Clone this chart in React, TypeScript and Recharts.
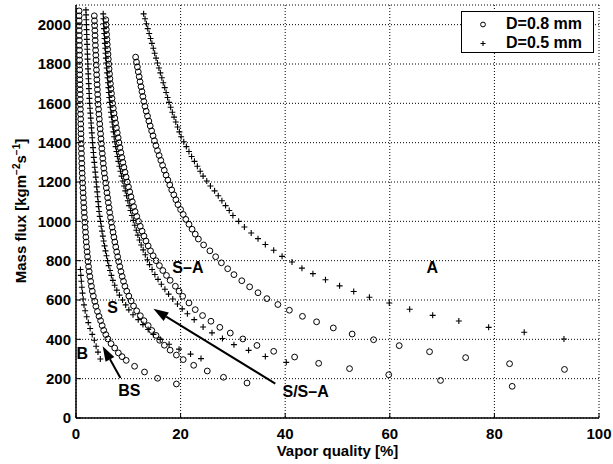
import React from 'react';
import { ScatterChart, Scatter, XAxis, YAxis, CartesianGrid, ReferenceLine } from 'recharts';

const FONT = '"Liberation Sans", Arial, Helvetica, sans-serif';

// [vapor quality %, mass flux kg/m2s]
// B/BS transition, D=0.8 mm
const bbs08: [number, number][] = [[0.60,2070],[0.61,2045],[0.62,2020],[0.63,1995],[0.63,1970],[0.64,1945],[0.65,1920],[0.66,1895],[0.67,1870],[0.68,1845],[0.69,1820],[0.70,1795],[0.72,1770],[0.73,1745],[0.75,1720],[0.76,1695],[0.78,1670],[0.80,1645],[0.82,1620],[0.83,1595],[0.85,1570],[0.87,1545],[0.89,1520],[0.91,1495],[0.93,1470],[0.95,1445],[0.97,1420],[1.00,1395],[1.02,1370],[1.05,1345],[1.08,1320],[1.11,1295],[1.14,1270],[1.18,1245],[1.22,1220],[1.26,1195],[1.31,1170],[1.36,1145],[1.41,1120],[1.46,1095],[1.52,1070],[1.57,1045],[1.63,1020],[1.69,995],[1.75,970],[1.82,945],[1.89,920],[1.96,895],[2.04,870],[2.12,845],[2.21,820],[2.30,795],[2.40,770],[2.52,745],[2.65,720],[2.80,695],[2.95,670],[3.12,645],[3.32,620],[3.6,593],[3.8,568],[4.1,542],[4.4,517],[4.7,495],[5.0,470],[5.3,446],[5.7,424],[6.1,402],[6.7,378],[7.4,356],[8.1,331],[8.8,312],[9.6,293],[11.2,263],[13.1,234],[15.6,202],[19.2,173]];
// B/BS transition, D=0.5 mm
const bbs05: [number, number][] = [[0.85,755],[0.93,725],[1.02,695],[1.12,665],[1.24,635],[1.37,605],[1.53,575],[1.75,545],[2.05,515],[2.35,485],[2.7,455],[3.1,425],[3.5,395],[3.85,365],[4.2,335],[4.65,300]];
// BS/S transition, D=0.5 mm
const bss05: [number, number][] = [[1.90,2075],[1.93,2050],[1.96,2025],[1.99,2000],[2.02,1975],[2.05,1950],[2.08,1925],[2.12,1900],[2.15,1875],[2.19,1850],[2.22,1825],[2.26,1800],[2.30,1775],[2.34,1750],[2.38,1725],[2.43,1700],[2.47,1675],[2.52,1650],[2.56,1625],[2.61,1600],[2.68,1575],[2.75,1550],[2.82,1525],[2.89,1500],[2.96,1475],[3.03,1450],[3.10,1425],[3.17,1400],[3.25,1375],[3.33,1350],[3.41,1325],[3.50,1300],[3.59,1275],[3.68,1250],[3.78,1225],[3.87,1200],[3.96,1175],[4.05,1150],[4.14,1125],[4.23,1100],[4.32,1075],[4.42,1050],[4.55,1025],[4.69,1000],[4.83,975],[4.98,950],[5.13,925],[5.29,900],[5.46,875],[5.64,850],[5.83,825],[6.04,800],[6.26,775],[6.50,750],[6.76,725],[7.05,700],[7.40,675],[7.80,650],[8.30,625],[8.9,600],[9.5,575],[10.1,550],[10.9,525],[11.9,500],[12.8,475],[13.8,450],[14.8,425],[16.1,400],[17.8,375],[19.7,350],[21.9,325],[23.9,302]];
// BS/S transition, D=0.8 mm
const bss08: [number, number][] = [[3.50,2045],[3.53,2020],[3.57,1995],[3.60,1970],[3.64,1945],[3.67,1920],[3.71,1895],[3.75,1870],[3.79,1845],[3.83,1820],[3.87,1795],[3.91,1770],[3.95,1745],[3.99,1720],[4.04,1695],[4.09,1670],[4.14,1645],[4.19,1620],[4.24,1595],[4.31,1570],[4.38,1545],[4.46,1520],[4.54,1495],[4.62,1470],[4.70,1445],[4.78,1420],[4.86,1395],[4.94,1370],[5.03,1345],[5.12,1320],[5.21,1295],[5.31,1270],[5.42,1245],[5.55,1220],[5.67,1195],[5.80,1170],[5.92,1145],[6.05,1120],[6.18,1095],[6.32,1070],[6.44,1045],[6.60,1020],[6.76,995],[6.92,970],[7.08,945],[7.25,920],[7.42,895],[7.60,870],[7.78,845],[7.97,820],[8.17,795],[8.38,770],[8.60,745],[8.83,720],[9.08,695],[9.35,670],[9.70,645],[10.1,620],[10.55,595],[11.0,570],[11.6,545],[12.3,520],[13.0,495],[13.8,470],[14.5,445],[15.3,420],[16.0,395],[16.9,370],[18.0,345],[19.2,320],[20.5,297],[22.5,268],[25.1,239],[28.2,207],[32.7,178]];
// S/S-A transition, D=0.5 mm
const ssa05: [number, number][] = [[5.20,2055],[5.25,2030],[5.30,2005],[5.35,1980],[5.41,1955],[5.47,1930],[5.53,1905],[5.60,1880],[5.66,1855],[5.73,1830],[5.80,1805],[5.88,1780],[5.96,1755],[6.04,1730],[6.12,1705],[6.20,1680],[6.28,1655],[6.36,1630],[6.45,1605],[6.56,1580],[6.67,1555],[6.79,1530],[6.91,1505],[7.03,1480],[7.16,1455],[7.29,1430],[7.43,1405],[7.58,1380],[7.74,1355],[7.92,1330],[8.10,1305],[8.30,1280],[8.50,1255],[8.72,1230],[8.95,1205],[9.18,1180],[9.42,1155],[9.66,1130],[9.91,1105],[10.16,1080],[10.42,1055],[10.69,1030],[10.96,1005],[11.24,980],[11.53,955],[11.83,930],[12.14,905],[12.46,880],[12.85,855],[13.25,830],[13.65,805],[14.06,780],[14.55,755],[15.08,730],[15.68,705],[16.32,680],[17.0,655],[17.7,630],[18.5,605],[19.4,580],[20.3,555],[21.3,530],[22.6,500],[24.3,463],[26.0,433],[28.0,404],[30.2,373],[33.0,344],[36.2,313],[40.2,283]];
// S/S-A transition, D=0.8 mm
const ssa08: [number, number][] = [[5.70,2025],[5.75,2000],[5.80,1975],[5.86,1950],[5.92,1925],[5.98,1900],[6.05,1875],[6.12,1850],[6.18,1825],[6.25,1800],[6.33,1775],[6.41,1750],[6.49,1725],[6.58,1700],[6.68,1675],[6.79,1650],[6.89,1625],[7.00,1600],[7.13,1575],[7.27,1550],[7.42,1525],[7.57,1500],[7.73,1475],[7.89,1450],[8.06,1425],[8.23,1400],[8.40,1375],[8.58,1350],[8.77,1325],[8.96,1300],[9.16,1275],[9.37,1250],[9.58,1225],[9.80,1200],[10.03,1175],[10.27,1150],[10.51,1125],[10.76,1100],[11.02,1075],[11.30,1050],[11.62,1025],[11.95,1000],[12.29,975],[12.64,950],[13.0,925],[13.38,900],[13.8,875],[14.25,850],[14.75,825],[15.3,800],[15.95,775],[16.6,750],[17.3,725],[18.0,700],[19.0,670],[19.7,645],[20.4,619],[21.6,585],[22.8,551],[24.2,521],[25.8,492],[27.5,461],[29.5,432],[31.9,402],[34.6,369],[37.8,339],[41.8,310],[46.4,278],[52.3,251],[59.8,220],[69.7,191],[83.4,161]];
// S-A/A transition, D=0.8 mm
const saa08: [number, number][] = [[11.40,1835],[11.57,1810],[11.74,1785],[11.91,1760],[12.08,1735],[12.25,1710],[12.43,1685],[12.61,1660],[12.79,1635],[12.97,1610],[13.18,1585],[13.42,1560],[13.67,1535],[13.93,1510],[14.19,1485],[14.46,1460],[14.73,1435],[15.0,1410],[15.28,1385],[15.58,1360],[15.90,1335],[16.22,1310],[16.55,1285],[16.88,1260],[17.22,1235],[17.57,1210],[17.93,1185],[18.3,1160],[18.7,1135],[19.1,1110],[19.5,1085],[20.0,1060],[20.5,1035],[21.0,1010],[21.6,985],[22.2,960],[22.8,935],[23.4,910],[24.4,880],[25.6,850],[26.7,820],[27.8,789],[29.0,759],[30.2,729],[31.7,698],[33.2,667],[34.8,637],[36.5,607],[38.6,577],[40.8,548],[43.3,517],[46.0,489],[49.2,458],[52.8,427],[56.9,398],[61.8,368],[67.6,337],[74.5,307],[82.9,276],[93.4,247]];
// S-A/A transition, D=0.5 mm
const saa05: [number, number][] = [[12.93,2055],[13.20,2030],[13.46,2005],[13.72,1980],[13.99,1955],[14.25,1930],[14.51,1905],[14.78,1880],[15.04,1855],[15.31,1830],[15.58,1805],[15.86,1780],[16.13,1755],[16.41,1730],[16.68,1705],[16.96,1680],[17.23,1655],[17.51,1630],[17.78,1605],[18.1,1580],[18.42,1555],[18.75,1530],[19.08,1505],[19.42,1480],[19.76,1455],[20.1,1430],[20.6,1405],[21.1,1380],[21.6,1355],[22.1,1330],[22.65,1305],[23.2,1280],[23.75,1255],[24.3,1230],[25.0,1205],[25.7,1180],[26.5,1155],[27.2,1130],[27.9,1105],[28.6,1080],[29.3,1055],[30.0,1030],[31.1,1000],[32.2,971],[33.5,941],[34.8,912],[36.2,882],[37.8,853],[39.4,822],[41.3,793],[43.2,762],[45.3,734],[47.7,703],[50.4,672],[53.1,643],[56.1,614],[59.9,585],[63.8,553],[68.2,522],[73.2,493],[78.9,461],[85.7,436],[93.3,402]];

const xTicks = [0, 20, 40, 60, 80, 100];
const yTicks = [0, 200, 400, 600, 800, 1000, 1200, 1400, 1600, 1800, 2000];

const regionLabels = [
  { x: 1.2, y: 327, text: 'B' },
  { x: 10.2, y: 139, text: 'BS' },
  { x: 7.0, y: 564, text: 'S' },
  { x: 21.4, y: 767, text: 'S\u2013A' },
  { x: 68.1, y: 767, text: 'A' },
  { x: 43.9, y: 136, text: 'S/S\u2013A' },
];

// arrows: tail -> tip
const arrows = [
  [{ x: 8.5, y: 203 }, { x: 5.1, y: 365 }],
  [{ x: 38.1, y: 175 }, { x: 14.8, y: 555 }],
];

const legendItems = [
  { label: 'D=0.8 mm', kind: 'circle' },
  { label: 'D=0.5 mm', kind: 'plus' },
];

const toPts = (arr: [number, number][]) => arr.map(([x, y]) => ({ x, y }));

const CircleMark = (p: any) => (
  <circle cx={p.cx} cy={p.cy} r={2.9} fill="none" stroke="#000" strokeWidth={1} />
);
const PlusMark = (p: any) => (
  <path d={`M${p.cx - 3},${p.cy}H${p.cx + 3}M${p.cx},${p.cy - 3}V${p.cy + 3}`} stroke="#000" strokeWidth={1.1} fill="none" />
);
const TextMark = (p: any) => (
  <text x={p.cx} y={p.cy} dy="0.36em" textAnchor="middle" fontFamily={FONT} fontWeight="bold" fontSize={16} fill="#000">
    {p.payload?.text ?? p.text}
  </text>
);

function ArrowShape(p: any) {
  const { x1, y1, x2, y2 } = p;
  const a = Math.atan2(y2 - y1, x2 - x1);
  const len = 15;
  const half = 5;
  const bx = x2 - len * Math.cos(a);
  const by = y2 - len * Math.sin(a);
  const nx = -Math.sin(a) * half;
  const ny = Math.cos(a) * half;
  return (
    <g>
      <line x1={x1} y1={y1} x2={bx} y2={by} stroke="#000" strokeWidth={2} />
      <polygon points={`${x2},${y2} ${bx + nx},${by + ny} ${bx - nx},${by - ny}`} fill="#000" />
    </g>
  );
}

const XTitle = () => (
  <text x={337.5} y={455.5} textAnchor="middle" fontFamily={FONT} fontWeight="bold" fontSize={15} fill="#000">
    Vapor quality [%]
  </text>
);

const YTitle = () => (
  <text x={26} y={211} transform="rotate(-90, 26, 211)" textAnchor="middle" fontFamily={FONT} fontWeight="bold" fontSize={15} fill="#000">
    Mass flux [kgm<tspan dy={-6} fontSize={10}>{'\u22122'}</tspan>
    <tspan dy={6}>s</tspan>
    <tspan dy={-6} fontSize={10}>{'\u22121'}</tspan>
    <tspan dy={6}>]</tspan>
  </text>
);

const XTick = (p: any) => (
  <text x={p.x} y={p.y} dy="0.72em" textAnchor="middle" fontFamily={FONT} fontWeight="bold" fontSize={15} fill="#000">
    {p.payload.value}
  </text>
);
const YTick = (p: any) => (
  <text x={p.x} y={p.y} dy="0.36em" textAnchor="end" fontFamily={FONT} fontWeight="bold" fontSize={15} fill="#000">
    {p.payload.value}
  </text>
);
const NoTick = () => <g />;

export default function App() {
  return (
    <div style={{ position: 'absolute', left: 0, top: 0, width: 613, height: 464, background: '#fff' }}>
      <ScatterChart width={613} height={464} margin={{ top: 5, right: 14, bottom: 0, left: 0 }}>
        <CartesianGrid stroke="#000" strokeDasharray="1 2" strokeWidth={1} />
        <XAxis type="number" dataKey="x" domain={[0, 100]} ticks={xTicks} height={46} stroke="#000"
          axisLine={{ strokeWidth: 1.5 }} tickSize={-5} tickMargin={15} tick={XTick} label={<XTitle />} />
        <YAxis type="number" dataKey="y" domain={[0, 2100]} ticks={yTicks} width={76} stroke="#000"
          axisLine={{ strokeWidth: 1.5 }} tickSize={-5} tickMargin={10} tick={YTick} label={<YTitle />} />
        <XAxis xAxisId="top" orientation="top" type="number" dataKey="x" domain={[0, 100]} ticks={xTicks} height={0}
          stroke="#000" axisLine={{ strokeWidth: 1.5 }} tickSize={-5} tick={NoTick} />
        <YAxis yAxisId="right" orientation="right" type="number" dataKey="y" domain={[0, 2100]} ticks={yTicks} width={0}
          stroke="#000" axisLine={{ strokeWidth: 1.5 }} tickSize={-5} tick={NoTick} />
        <Scatter data={toPts(bbs08)} shape={CircleMark} isAnimationActive={false} />
        <Scatter data={toPts(bss08)} shape={CircleMark} isAnimationActive={false} />
        <Scatter data={toPts(ssa08)} shape={CircleMark} isAnimationActive={false} />
        <Scatter data={toPts(saa08)} shape={CircleMark} isAnimationActive={false} />
        <Scatter data={toPts(bbs05)} shape={PlusMark} isAnimationActive={false} />
        <Scatter data={toPts(bss05)} shape={PlusMark} isAnimationActive={false} />
        <Scatter data={toPts(ssa05)} shape={PlusMark} isAnimationActive={false} />
        <Scatter data={toPts(saa05)} shape={PlusMark} isAnimationActive={false} />
        <Scatter data={regionLabels} shape={TextMark} isAnimationActive={false} />
        {arrows.map((seg, i) => (
          <ReferenceLine key={i} segment={seg} shape={ArrowShape} ifOverflow="visible" />
        ))}
      </ScatterChart>
      <div style={{ position: 'absolute', left: 461, top: 11, width: 133, height: 42, border: '1px solid #000', background: '#fff', boxSizing: 'border-box', fontFamily: FONT, fontWeight: 'bold', fontSize: 16, color: '#000' }}>
        {legendItems.map((it, i) => (
          <div key={it.label} style={{ position: 'absolute', left: 0, top: i === 0 ? 2.5 : 21.8, height: 19, display: 'flex', alignItems: 'center', whiteSpace: 'nowrap' }}>
            <svg width={44} height={19}>
              {it.kind === 'circle' ? (
                <circle cx={21} cy={9.5} r={2.4} fill="none" stroke="#000" strokeWidth={1} />
              ) : (
                <path d="M18.5,9.5H23.5M21,7V12" stroke="#000" strokeWidth={1.1} />
              )}
            </svg>
            <span>{it.label}</span>
          </div>
        ))}
      </div>
    </div>
  );
}
